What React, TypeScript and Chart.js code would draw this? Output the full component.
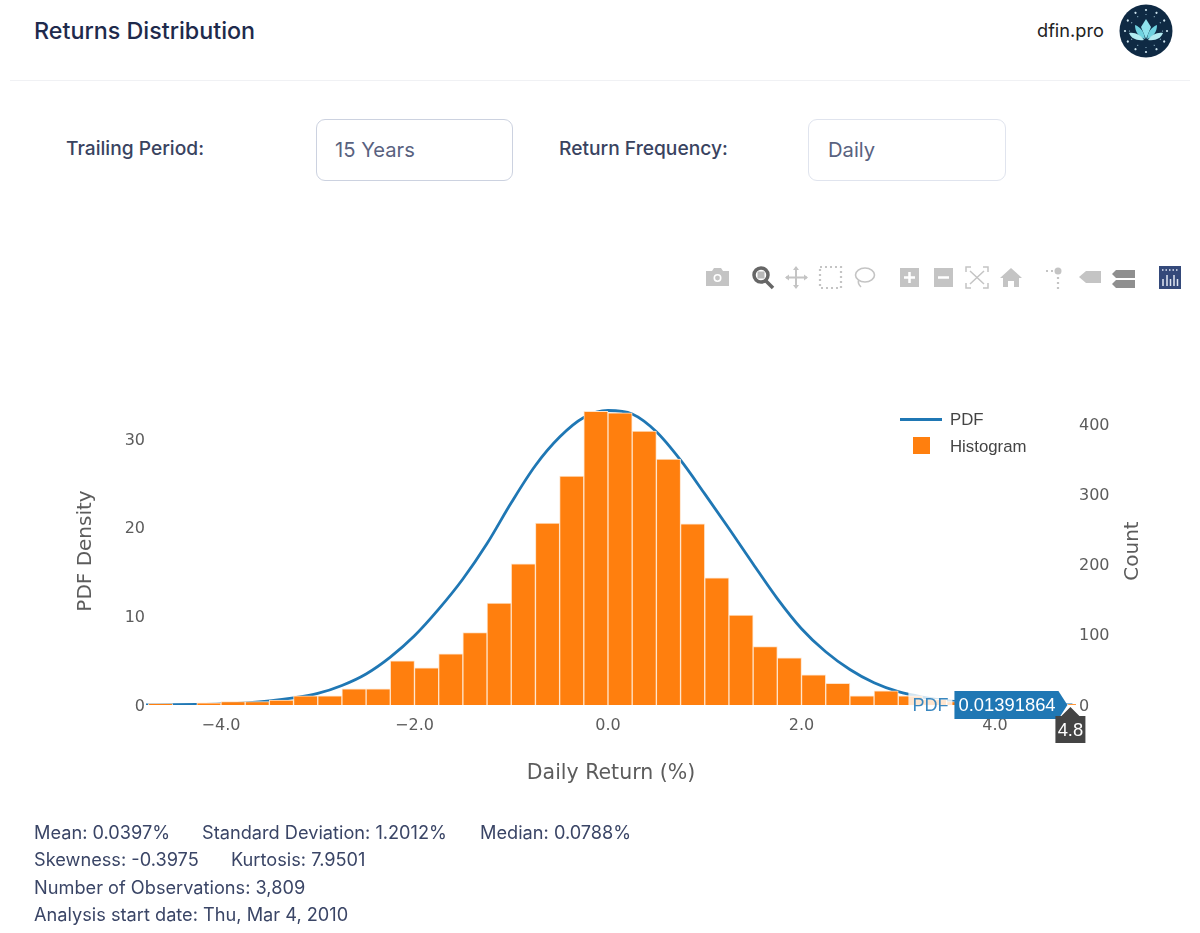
import { useEffect, useRef } from "react"
import { Chart, registerables } from "chart.js"

Chart.register(...registerables)

// histogram bins (centre of each 0.25 wide bin)
const binCenters = [
  -4.625, -4.375, -4.125, -3.875, -3.625, -3.375, -3.125, -2.875, -2.625, -2.375, -2.125, -1.875, -1.625,
  -1.375, -1.125, -0.875, -0.625, -0.375, -0.125, 0.125, 0.375, 0.625, 0.875, 1.125, 1.375, 1.625, 1.875,
  2.125, 2.375, 2.625, 2.875, 3.125, 3.375, 3.625, 3.875, 4.125, 4.375, 4.625, 4.875,
]
const binCounts = [
  2, 0, 3, 5, 5, 7, 13, 13, 23, 23, 63, 53, 73, 103, 145, 201, 259, 326, 418, 416, 390, 350, 258, 181, 128,
  83, 67, 43, 31, 13, 20, 13, 8, 5, 3, 2, 1, 1, 1,
]

const pdfX = [
  -4.775, -4.5, -4.25, -4, -3.75, -3.5, -3.25, -3, -2.75, -2.5, -2.25, -2, -1.75, -1.5, -1.25, -1, -0.75, -0.5,
  -0.25, 0, 0.25, 0.5, 0.75, 1, 1.25, 1.5, 1.75, 2, 2.25, 2.5, 2.75, 3, 3.25, 3.5, 3.75, 4, 4.25, 4.5, 4.8,
]
const pdfY = [
  0.02, 0.03, 0.06, 0.12, 0.25, 0.46, 0.8, 1.3, 2.2, 3.5, 5.4, 7.8, 10.8, 14.2, 18.2, 22.8, 27.0, 30.2, 32.4,
  33.2, 32.8, 30.8, 27.6, 23.8, 19.9, 15.9, 12.0, 8.6, 6.0, 4.0, 2.5, 1.5, 0.9, 0.5, 0.28, 0.15, 0.08, 0.04,
  0.01391864,
]

const xTicks = [-4, -2, 0, 2, 4]
const pdfTicks = [0, 10, 20, 30]
const countTicks = [0, 100, 200, 300, 400]

const statsLines = [
  ["Mean: 0.0397%", "Standard Deviation: 1.2012%", "Median: 0.0788%"],
  ["Skewness: -0.3975", "Kurtosis: 7.9501"],
  ["Number of Observations: 3,809"],
  ["Analysis start date: Thu, Mar 4, 2010"],
]

const hoverX = 4.8
const hoverY = 0
const hoverName = "PDF"
const hoverValue = "0.01391864"
const hoverXLabel = "4.8"

const TICK_FONT = { family: "'DejaVu Sans'", size: 16 }
const TICK_COLOR = "#5c5c5c"
const BLUE = "#1f77b4"
const ORANGE = "#ff7f0e"

function drawSideTitle(ctx: any, text: string, x: number, y: number) {
  ctx.save()
  ctx.translate(x, y)
  ctx.rotate(-Math.PI / 2)
  ctx.font = "20px 'DejaVu Sans'"
  ctx.fillStyle = TICK_COLOR
  ctx.textAlign = "center"
  ctx.textBaseline = "middle"
  ctx.fillText(text, 0, 0)
  ctx.restore()
}

// both y titles read bottom to top, and the hover labels sit on top of everything
const overlayPlugin = {
  id: "overlay",
  afterDraw(chart: any) {
    const { ctx, scales } = chart
    const px = scales.x.getPixelForValue(hoverX)
    const py = scales.y.getPixelForValue(hoverY)

    drawSideTitle(ctx, "PDF Density", 86, 551)
    drawSideTitle(ctx, "Count", 1133, 551)

    ctx.save()
    // name part of the label
    ctx.fillStyle = "rgba(255,255,255,0.8)"
    ctx.fillRect(px - 164, py - 14, 44, 28)
    ctx.font = "18px 'Liberation Sans'"
    ctx.textAlign = "left"
    ctx.textBaseline = "middle"
    ctx.fillStyle = "#3a87bf"
    ctx.fillText(hoverName, px - 160, py + 1)

    // value box with its arrow to the right
    ctx.fillStyle = BLUE
    ctx.beginPath()
    ctx.moveTo(px - 118, py - 14)
    ctx.lineTo(px - 14, py - 14)
    ctx.lineTo(px - 5, py)
    ctx.lineTo(px - 14, py + 14)
    ctx.lineTo(px - 118, py + 14)
    ctx.closePath()
    ctx.fill()
    ctx.font = "18.4px 'Liberation Sans'"
    ctx.fillStyle = "#ffffff"
    ctx.fillText(hoverValue, px - 114, py + 1)

    // x value box with its arrow going up
    ctx.fillStyle = "#444444"
    ctx.beginPath()
    ctx.moveTo(px - 2, py + 2)
    ctx.lineTo(px + 7, py + 11)
    ctx.lineTo(px + 13, py + 11)
    ctx.lineTo(px + 13, py + 38)
    ctx.lineTo(px - 17, py + 38)
    ctx.lineTo(px - 17, py + 11)
    ctx.lineTo(px - 11, py + 11)
    ctx.closePath()
    ctx.fill()
    ctx.fillStyle = "#ffffff"
    ctx.textAlign = "center"
    ctx.fillText(hoverXLabel, px - 2, py + 26)
    ctx.restore()
  },
}

function ReturnsChart() {
  const chartRef = useRef<HTMLCanvasElement>(null)

  useEffect(() => {
    if (!chartRef.current) return
    const chart = new Chart(chartRef.current, {
      type: "bar",
      data: {
        datasets: [
          {
            label: "Histogram",
            data: binCenters.map((x, i) => ({ x, y: binCounts[i] })),
            yAxisID: "y1",
            backgroundColor: ORANGE,
            borderColor: "#ffe3c8",
            borderWidth: 1,
            barPercentage: 1,
            categoryPercentage: 1,
            order: 1,
          },
          {
            type: "line",
            label: "PDF",
            data: pdfX.map((x, i) => ({ x, y: pdfY[i] })),
            yAxisID: "y",
            borderColor: BLUE,
            borderWidth: 2.8,
            pointRadius: 0,
            cubicInterpolationMode: "monotone",
            order: 2,
          },
        ],
      } as any,
      options: {
        responsive: false,
        animation: false,
        devicePixelRatio: 1,
        layout: { padding: { left: 0, right: 0, top: 405, bottom: 147 } },
        plugins: { legend: { display: false }, tooltip: { enabled: false } },
        scales: {
          x: {
            type: "linear",
            offset: false,
            min: -4.775,
            max: 4.837,
            grid: { display: false, drawTicks: false },
            border: { display: false },
            afterBuildTicks: (s: any) => {
              s.ticks = xTicks.map((value) => ({ value }))
            },
            afterFit: (s: any) => {
              s.height = 81
            },
            ticks: {
              font: TICK_FONT,
              color: TICK_COLOR,
              padding: 11,
              maxRotation: 0,
              callback: (v: any) => (v < 0 ? "\u2212" : "") + Math.abs(v).toFixed(1),
            },
            title: {
              display: true,
              text: "Daily Return (%)",
              font: { family: "'DejaVu Sans'", size: 20.5 },
              color: TICK_COLOR,
              padding: 0,
            },
          },
          y: {
            position: "left",
            min: 0,
            max: 33.82,
            grid: { display: false, drawTicks: false },
            border: { display: false },
            afterBuildTicks: (s: any) => {
              s.ticks = pdfTicks.map((value) => ({ value }))
            },
            afterFit: (s: any) => {
              s.width = 146
            },
            ticks: { font: TICK_FONT, color: TICK_COLOR, padding: 1, labelOffset: 1.5 },
          },
          y1: {
            position: "right",
            min: 0,
            max: 427,
            grid: { display: false, drawTicks: false },
            border: { display: false },
            afterBuildTicks: (s: any) => {
              s.ticks = countTicks.map((value) => ({ value }))
            },
            afterFit: (s: any) => {
              s.width = 124
            },
            ticks: { font: TICK_FONT, color: TICK_COLOR, padding: 3, labelOffset: 1.5 },
          },
        },
      },
      plugins: [overlayPlugin],
    } as any)
    return () => chart.destroy()
  }, [])

  return <canvas ref={chartRef} width={1200} height={933} style={{ position: "absolute", left: 0, top: 0 }} />
}

function Logo() {
  const rays = [0, 30, 60, 90, 120, 150, 180, 210, 240, 270, 300, 330]
  return (
    <svg width="54" height="54" viewBox="-27 -27 54 54" style={{ position: "absolute", left: 1119, top: 4 }}>
      <circle r="26.5" fill="#0f2a44" />
      {rays.map((a) => (
        <g key={a} transform={`rotate(${a})`}>
          <circle cy="-21" r="1.1" fill="#cfe6f0" />
          <circle cy="-16.5" r="0.6" fill="#9cc4d6" />
        </g>
      ))}
      <path d="M0 -12 L5 -4 L0 8 L-5 -4 Z" fill="#8fe3ee" />
      <path d="M-1 8 C-8 6 -11 0 -11 -6 C-6 -4 -2 0 -1 8 Z" fill="#6fd2e0" />
      <path d="M1 8 C8 6 11 0 11 -6 C6 -4 2 0 1 8 Z" fill="#6fd2e0" />
      <path d="M-2 9 C-10 10 -15 7 -17 2 C-11 1 -5 4 -2 9 Z" fill="#b4ecf2" />
      <path d="M2 9 C10 10 15 7 17 2 C11 1 5 4 2 9 Z" fill="#b4ecf2" />
    </svg>
  )
}

function ModeBar() {
  const grey = "#c4c4c4"
  const dots = "2 3"
  return (
    <svg width="1200" height="40" viewBox="0 257 1200 40" style={{ position: "absolute", left: 0, top: 257 }}>
      {/* camera */}
      <path d="M706 271h6l2-3h7l2 3h6v15h-23z" fill={grey} />
      <circle cx="717.5" cy="278" r="4" fill="#fff" />
      <circle cx="717.5" cy="278" r="2.4" fill={grey} />
      {/* zoom */}
      <circle cx="761" cy="275" r="7" fill="none" stroke="#666" strokeWidth="3.5" />
      <rect x="757.5" y="271.5" width="7" height="7" fill="#b8b8b8" />
      <path d="M766 281l7 7" stroke="#666" strokeWidth="3.5" />
      {/* pan */}
      <path d="M796 267v21M786 277.5h21" stroke={grey} strokeWidth="2" />
      <path d="M793 270l3-4 3 4zM793 285l3 4 3-4zM789 274.5l-4 3 4 3zM804 274.5l4 3-4 3z" fill={grey} />
      {/* box select */}
      <rect x="820" y="267" width="21" height="21" fill="none" stroke={grey} strokeWidth="2.2" strokeDasharray={dots} />
      {/* lasso */}
      <ellipse cx="865" cy="275" rx="9.5" ry="7" fill="none" stroke={grey} strokeWidth="1.6" />
      <path d="M859 280c-2 3 0 5 2 7" fill="none" stroke={grey} strokeWidth="1.6" />
      {/* zoom in, zoom out */}
      <rect x="900" y="268" width="19" height="19" fill={grey} />
      <path d="M909.5 272v11M904 277.5h11" stroke="#fff" strokeWidth="2.5" />
      <rect x="934" y="268" width="19" height="19" fill={grey} />
      <path d="M938 277.5h11" stroke="#fff" strokeWidth="2.5" />
      {/* autoscale */}
      <path d="M966 272v-5h5M983 267h5v5M988 283v5h-5M971 288h-5v-5M970 271l14 13M984 271l-14 13" fill="none" stroke={grey} strokeWidth="1.5" />
      {/* home */}
      <path d="M1011 268l11 10h-3v9h-5v-6h-6v6h-5v-9h-3z" fill={grey} />
      {/* spikes */}
      <circle cx="1058" cy="271" r="3.5" fill={grey} />
      <path d="M1046 271h8M1058 277v12" stroke={grey} strokeWidth="2.2" strokeDasharray="2 3" />
      {/* closest data */}
      <path d="M1079 277l7-6h15v12h-15z" fill={grey} />
      {/* compare data */}
      <path d="M1116 270h19v8h-19l-4-4zM1116 280h19v8h-19l-4-4z" fill="#8f8f8f" />
      {/* plotly logo */}
      <rect x="1159" y="266" width="22" height="23" fill="#34497a" />
      <path d="M1163 279v7M1167 275v11M1170.5 279v7M1174 275v11M1177.5 279v7" stroke="#dfe6f2" strokeWidth="1.5" />
      <path d="M1162 270h17" stroke="#dfe6f2" strokeWidth="1.5" strokeDasharray="1.5 2" />
    </svg>
  )
}

const abs = (left: number, top: number, extra: any = {}): any => ({
  position: "absolute",
  left,
  top,
  whiteSpace: "nowrap",
  lineHeight: 1,
  ...extra,
})

export default function App() {
  const page = { fontFamily: "Inter, sans-serif", color: "#1f2a4a" }
  const label = { fontSize: 19.2, fontWeight: 500, color: "#39435f" }
  const value = { fontSize: 20.2, color: "#59627f" }
  const statTops = [823, 850, 878, 905]
  const statLefts = [34, 202, 480]
  const statLefts2 = [34, 231]

  return (
    <div style={{ position: "absolute", left: 0, top: 0, width: 1200, height: 933, background: "#fff", overflow: "hidden", ...page }}>
      <div style={abs(34, 19, { fontSize: 23.3, fontWeight: 500, color: "#1e2a4c" })}>Returns Distribution</div>
      <div style={abs(1037, 21, { fontSize: 18.2, color: "#222" })}>dfin.pro</div>
      <Logo />
      <div style={{ position: "absolute", left: 10, top: 80, width: 1180, height: 1, background: "#f0f1f4" }} />

      <div style={abs(66, 139, label)}>Trailing Period:</div>
      <div style={{ position: "absolute", left: 316, top: 119, width: 195, height: 60, border: "1.5px solid #ccd2e0", borderRadius: 9 }} />
      <div style={abs(335, 140, value)}>15 Years</div>
      <div style={abs(559, 139, label)}>Return Frequency:</div>
      <div style={{ position: "absolute", left: 808, top: 119, width: 196, height: 60, border: "1.5px solid #e0e4ee", borderRadius: 9 }} />
      <div style={abs(828, 140, value)}>Daily</div>

      <ModeBar />
      <ReturnsChart />

      {/* legend */}
      <div style={{ position: "absolute", left: 900, top: 418, width: 42, height: 2.5, background: BLUE }} />
      <div style={abs(950, 412, { fontFamily: "'Liberation Sans'", fontSize: 16.8, color: "#444" })}>PDF</div>
      <div style={{ position: "absolute", left: 913, top: 437, width: 17, height: 17, background: ORANGE }} />
      <div style={abs(950, 439, { fontFamily: "'Liberation Sans'", fontSize: 16.8, color: "#444" })}>Histogram</div>

      {statsLines.map((line, i) =>
        line.map((text, j) => (
          <div key={text} style={abs(i === 1 ? statLefts2[j] : statLefts[j], statTops[i], { fontSize: 18.2, color: "#3a4566" })}>
            {text}
          </div>
        )),
      )}
    </div>
  )
}
